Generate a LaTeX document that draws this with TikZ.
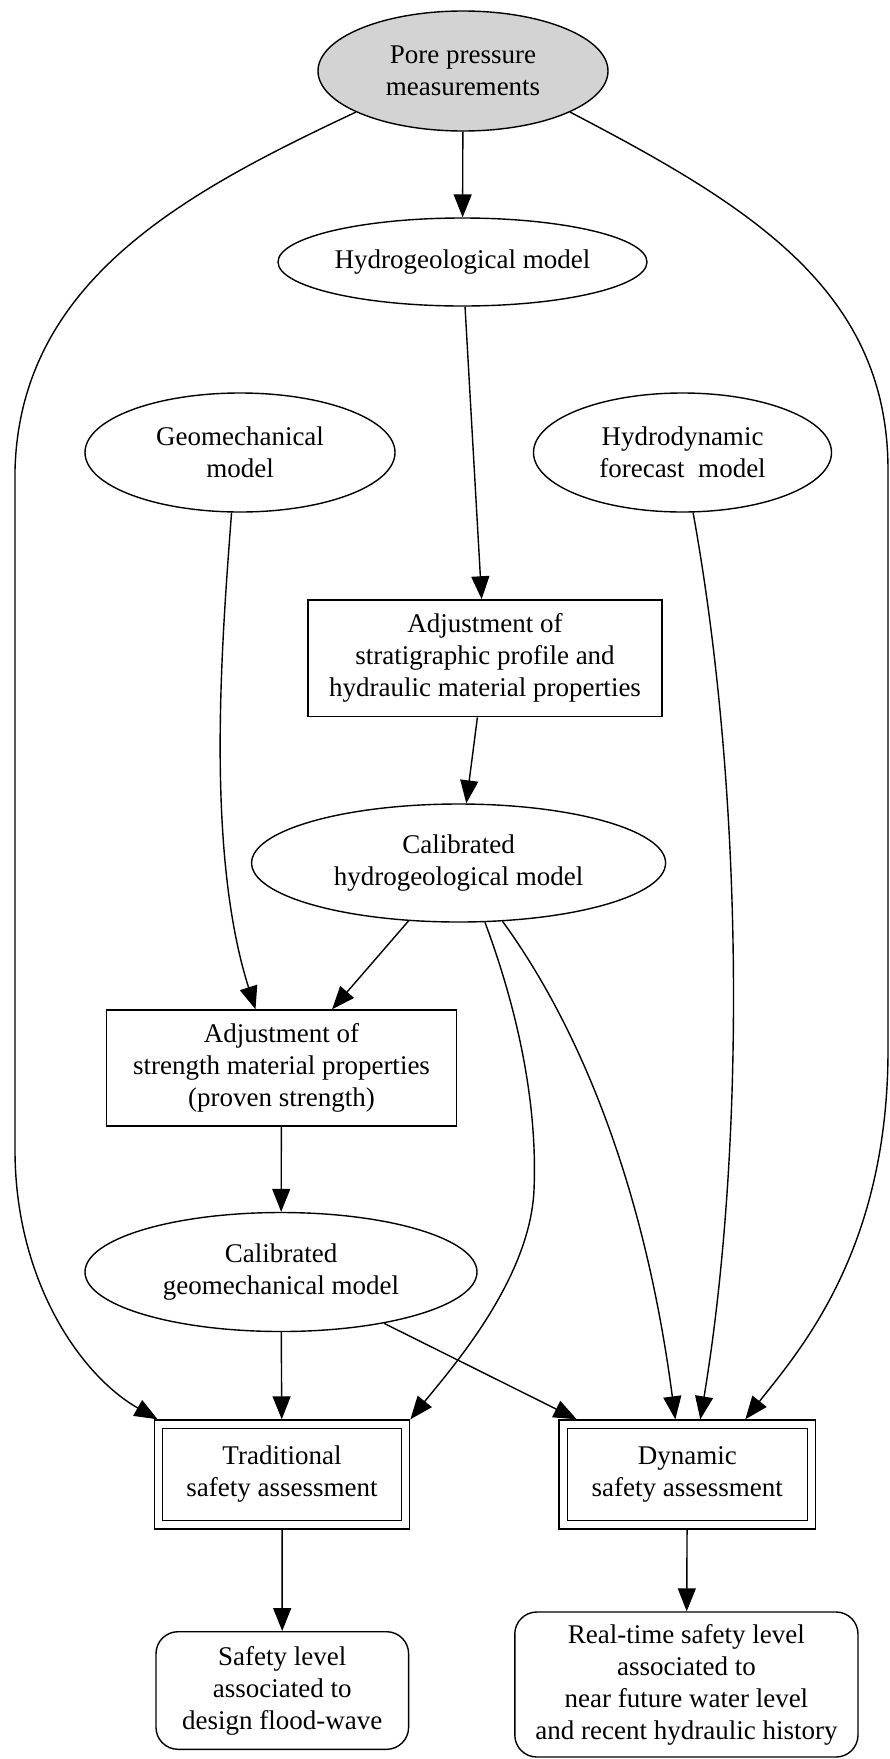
\documentclass[tikz,border=0pt]{standalone}
\usepackage{fontspec}
\setmainfont{Liberation Serif}
\usetikzlibrary{shapes.geometric, arrows.meta, calc}
\definecolor{lgray}{RGB}{211,211,211}
\begin{document}
\begin{tikzpicture}[x=1pt, y=-1pt,
  base/.style={draw, line width=1.4pt, inner sep=0pt, align=center, font=\fontsize{27}{32}\selectfont},
  ell/.style={base, ellipse},
  box/.style={base, rectangle},
  rbox/.style={base, rectangle, rounded corners=22pt},
  arr/.style={line width=1.4pt, -{Triangle[length=23pt, width=18pt]}},
  inner/.style={line width=1.4pt},
]
\useasboundingbox (0,0) rectangle (890,1759);
% nodes
\node[ell, fill=lgray, minimum width=290pt, minimum height=120pt] (pore) at (463,71) {Pore pressure\\measurements};
\node[ell, minimum width=369pt, minimum height=88pt] (hydro) at (462.5,262) {Hydrogeological model};
\node[ell, minimum width=310pt, minimum height=119pt] (geomech) at (240,452.5) {Geomechanical\\model};
\node[ell, minimum width=298pt, minimum height=119pt] (hydrodyn) at (682.5,452.5) {Hydrodynamic\\forecast\ \ model};
\node[box, minimum width=354pt, minimum height=116.7pt] (strat) at (485,658.3) {Adjustment of\\stratigraphic profile and\\hydraulic material properties};
\node[ell, minimum width=414pt, minimum height=118pt] (calhydro) at (458.6,863) {Calibrated\\hydrogeological model};
\node[box, minimum width=349.6pt, minimum height=116pt] (strength) at (281.5,1068) {Adjustment of\\strength material properties\\(proven strength)};
\node[ell, minimum width=392pt, minimum height=119pt] (calgeo) at (281,1272) {Calibrated\\geomechanical model};
\node[box, minimum width=255.4pt, minimum height=109pt] (trad) at (282,1474.5) {Traditional\\safety assessment};
\node[box, minimum width=256.6pt, minimum height=109pt] (dyn) at (687.3,1474.5) {Dynamic\\safety assessment};
\node[rbox, minimum width=252.6pt, minimum height=117.6pt] (safety) at (282.3,1690.5) {Safety level\\associated to\\design flood-wave};
\node[rbox, minimum width=343.2pt, minimum height=145pt] (realtime) at (686.4,1684.5) {Real-time safety level\\associated to\\near future water level\\and recent hydraulic history};
% inner frames of double boxes
\draw[inner] ($(trad.north west)+(9,9)$) rectangle ($(trad.south east)+(-9,-9)$);
\draw[inner] ($(dyn.north west)+(9,9)$) rectangle ($(dyn.south east)+(-9,-9)$);
% straight edges
\draw[arr] (pore) -- (hydro);
\draw[arr] (hydro) -- (strat);
\draw[arr] (strat) -- (calhydro);
\draw[arr] (calhydro) -- (strength);
\draw[arr] (strength) -- (calgeo);
\draw[arr] (calgeo) -- (trad);
\draw[arr] (calgeo) -- (dyn);
\draw[arr] (trad) -- (safety);
\draw[arr] (dyn) -- (realtime);
% curved edges
\draw[arr] (pore.201) .. controls (186,192) and (20,280) .. (15,470) -- (15,1150) .. controls (15,1280) and (80,1375) .. ($(trad.north west)+(4,0)$);
\draw[arr] (pore.339) .. controls (750,206) and (888,290) .. (888,470) -- (888,1050) .. controls (888,1250) and (800,1350) .. ($(dyn.north)+(58,0)$);
\draw[arr] (geomech.262) .. controls (222,640) and (205,850) .. ($(strength.north)+(-26,0)$);
\draw[arr] (hydrodyn.280) .. controls (745,800) and (745,1150) .. ($(dyn.north)+(13,0)$);
\draw[arr] (calhydro.294) .. controls (525,1030) and (537,1120) .. (534,1190) .. controls (530,1280) and (450,1370) .. (trad.north east);
\draw[arr] (calhydro.307) .. controls (560,1000) and (640,1150) .. ($(dyn.north)+(-12,0)$);
\end{tikzpicture}
\end{document}
